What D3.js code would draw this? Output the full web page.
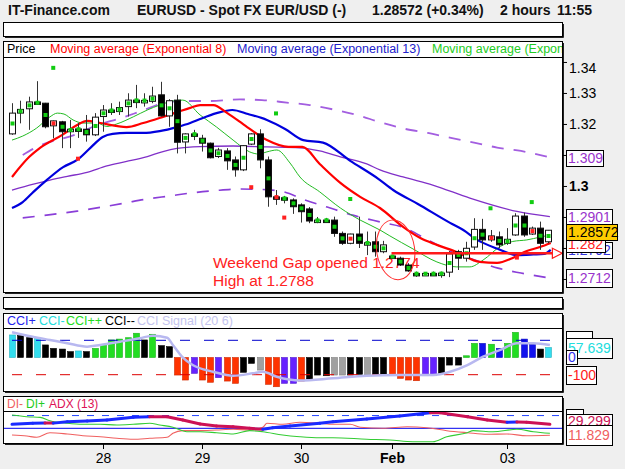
<!DOCTYPE html>
<html>
<head>
<meta charset="utf-8">
<script src="https://cdn.jsdelivr.net/npm/d3@7"></script>
<style>
	body { margin: 0; background: #efefef; }
	svg { display: block; font-family: "Liberation Sans", Arial, sans-serif; }
</style>
</head>
<body>
<div id="chart"></div>
<script>
// EURUSD 2-hour candles, 27 Jan -> 03 Feb
var opens  = [1.3168,1.3235,1.3249,1.3271,1.3267,1.3194,1.3207,1.3178,1.3184,1.3183,1.3165,1.3224,1.3245,1.3240,1.3256,1.3277,1.3275,1.3273,1.3294,1.3226,1.3277,1.3142,1.3168,1.3154,1.3138,1.3095,1.3113,1.3084,1.3052,1.3135,1.3168,1.3084,1.2965,1.2962,1.2955,1.2939,1.2926,1.2888,1.2890,1.2890,1.2847,1.2815,1.2845,1.2815,1.2820,1.2788,1.2774,1.2767,1.2745,1.2718,1.2716,1.2718,1.2716,1.2722,1.2788,1.2767,1.2803,1.2860,1.2826,1.2836,1.2815,1.2842,1.2903,1.2845,1.2864,1.2820];
var highs  = [1.3267,1.3275,1.3288,1.3338,1.3268,1.3211,1.3210,1.3213,1.3203,1.3229,1.3235,1.3261,1.3267,1.3272,1.3299,1.3326,1.3299,1.3320,1.3336,1.3280,1.3294,1.3170,1.3181,1.3165,1.3140,1.3123,1.3122,1.3095,1.3132,1.3170,1.3183,1.3095,1.2987,1.2968,1.2960,1.2944,1.2932,1.2900,1.2897,1.2901,1.2853,1.2846,1.2901,1.2853,1.2853,1.2823,1.2778,1.2772,1.2751,1.2724,1.2722,1.2724,1.2724,1.2790,1.2794,1.2820,1.2896,1.2894,1.2858,1.2853,1.2864,1.2912,1.2914,1.2869,1.2885,1.2858];
var lows   = [1.3165,1.3202,1.3181,1.3262,1.3186,1.3154,1.3122,1.3122,1.3155,1.3143,1.3161,1.3175,1.3229,1.3229,1.3224,1.3251,1.3256,1.3267,1.3224,1.3191,1.3105,1.3105,1.3148,1.3111,1.3089,1.3090,1.3052,1.3030,1.3048,1.3132,1.3057,1.2933,1.2939,1.2944,1.2910,1.2882,1.2880,1.2880,1.2884,1.2836,1.2810,1.2812,1.2800,1.2777,1.2772,1.2783,1.2768,1.2742,1.2723,1.2707,1.2710,1.2710,1.2704,1.2706,1.2729,1.2756,1.2794,1.2794,1.2820,1.2799,1.2810,1.2839,1.2836,1.2842,1.2794,1.2815];
var closes = [1.3235,1.3247,1.3271,1.3266,1.3191,1.3210,1.3175,1.3183,1.3182,1.3165,1.3222,1.3245,1.3242,1.3253,1.3277,1.3275,1.3276,1.3290,1.3226,1.3275,1.3141,1.3168,1.3166,1.3138,1.3091,1.3116,1.3081,1.3052,1.3130,1.3168,1.3084,1.2965,1.2963,1.2958,1.2933,1.2917,1.2887,1.2890,1.2889,1.2847,1.2815,1.2845,1.2815,1.2817,1.2788,1.2810,1.2771,1.2745,1.2726,1.2716,1.2718,1.2716,1.2719,1.2781,1.2767,1.2799,1.2860,1.2826,1.2839,1.2810,1.2828,1.2903,1.2842,1.2864,1.2815,1.28572];
var redMarks = [5, 32, 41, 58, 63];

// stand-alone signal squares
var sigIdx = [5, 8, 29, 32, 33, 41, 58, 61.2, 63];
var sigVal = [1.3381, 1.3088, 1.2996, 1.3234, 1.2898, 1.2958, 1.2928, 1.2769, 1.2948];
var sigCol = ["g", "r", "r", "g", "r", "g", "g", "r", "g"];

// moving averages (candle index, price)
var ema8At  = [0,2.1,3.4,6.1,7.9,9.1,10.7,13.9,15.9,18.3,20.1,21.6,22.8,24.4,26.1,28.5,30.9,33.5,35.2,37.3,39.8,42.2,44.6,47.4,49.5,51.5,53.9,56.7,58.8,60.7,62.4,64,65.3];
var ema8    = [1.3029,1.3094,1.3123,1.3165,1.3197,1.3210,1.3203,1.3190,1.3203,1.3223,1.3239,1.3252,1.3261,1.3261,1.3235,1.3190,1.3148,1.3126,1.3126,1.3071,1.3010,1.2965,1.2929,1.2868,1.2832,1.2810,1.2787,1.2755,1.2752,1.2768,1.2790,1.2803,1.2816];
var ema13At = [0,1.3,2.6,4.2,6.2,7.9,9.5,11,12.2,13.9,15.9,17.9,20,21.6,22.8,24.8,26.7,28.6,30.9,33.1,35.3,37.7,41,44.4,46.2,49.2,53.1,54.7,56.4,58.8,61.2,63.2,64.5,65.3];
var ema13   = [1.2929,1.2948,1.2981,1.3019,1.3061,1.3084,1.3123,1.3158,1.3168,1.3171,1.3171,1.3177,1.3190,1.3203,1.3216,1.3235,1.3245,1.3232,1.3213,1.3184,1.3148,1.3140,1.3081,1.3023,1.2987,1.2942,1.2881,1.2858,1.2826,1.2798,1.2777,1.2779,1.2781,1.2794];
var emaGAt  = [0,1.3,3,4.6,5.5,6.3,7.4,8.6,10.3,11.5,12.7,14.7,16.4,17.9,19.5,20.7,22.8,24.8,26.8,28.8,29.9,30.9,32.1,33.7,34.9,37.3,39.8,42.2,44.6,45.8,48.6,51.5,53.9,55.5,57.1,59.2,60.7,62.4,64,65.2];
var emaG    = [1.3148,1.3161,1.3187,1.3223,1.3235,1.3232,1.3213,1.3203,1.3203,1.3192,1.3200,1.3223,1.3245,1.3261,1.3274,1.3277,1.3229,1.3190,1.3148,1.3110,1.3103,1.3110,1.3116,1.3074,1.3029,1.2981,1.2929,1.2890,1.2858,1.2839,1.2797,1.2755,1.2739,1.2739,1.2761,1.2805,1.2821,1.2826,1.2835,1.2842];
var maAt    = [0,2.6,4.6,6.7,9.1,11.5,13.9,16.4,18.3,20,22.8,26.8,30.9,34.9,37.3,39.8,43,44.6,47.4,51,55.5,61.2,65.2];
var ma      = [1.2987,1.3006,1.3019,1.3031,1.3044,1.3065,1.3079,1.3095,1.3111,1.3121,1.3127,1.3129,1.3126,1.3123,1.3113,1.3094,1.3071,1.3052,1.3029,1.3003,1.2961,1.2918,1.2901];
var upAt    = [1.3,2.8,8,10.2,13.1,15.5,18.5,21,23.8,27.6,30.3,33.3,36.1,38.9,41.8,44.7,47.5,50.4,53.2,56,58.8,61.7,65.2];
var up      = [1.3100,1.3123,1.3169,1.3195,1.3218,1.3240,1.3268,1.3274,1.3274,1.3279,1.3277,1.3269,1.3261,1.3247,1.3229,1.3205,1.3185,1.3171,1.3155,1.3140,1.3124,1.3113,1.3092];
var loAt    = [1.3,4.2,7.9,10.7,13.5,16.4,19.2,21.6,24.6,27.6,30.1,32.8,35.5,38.2,41.3,44.6,47.6,50.4,53.3,56.1,58.9,61.7,65.2];
var lo      = [1.2897,1.2906,1.2919,1.2931,1.2944,1.2958,1.2968,1.2977,1.2985,1.2990,1.2989,1.2982,1.2955,1.2932,1.2906,1.2884,1.2865,1.2826,1.2787,1.2761,1.2735,1.2719,1.2703];

// CCI histogram, one bar per candle
var cci    = [131,127,115,115,73,53,49,34,38,34,53,73,102,107,115,141,102,135,69,63,-102,-131,-92,-131,-144,-117,-137,-150,-86,-34,-73,-156,-170,-150,-150,-137,-125,-102,-106,-102,-102,-102,-98,-102,-102,-102,-102,-121,-131,-135,-106,-106,-92,-44,-44,10,82,82,77,53,82,146,107,77,49,57.6];
var cciCol = "ckkckkkkckggggggkgkkrrprrprrkkyrrpprkkkyykkykkrrrrppkkkggbgbggbbkc";
var sigAt  = [0,2.5,4.6,6.7,9.1,10.7,13.1,15.5,17.1,18.8,19.5,20.6,21.9,24.4,26.8,29.2,30.4,32.1,34.9,38.9,43,47,51,53.1,55.2,57.1,59.2,61.2,63.2,65.2];
var cciSig = [147,121,102,83,63,73,92,112,127,115,73,5,-44,-83,-106,-92,-83,-112,-134,-121,-106,-102,-102,-83,-44,5,44,83,83,73];

// DMI / ADX (13)
var adxAt = [0,2.5,4,5,6.7,9.1,11.5,14.7,16.7,18.8,20.7,22.8,24.8,26.8,28.8,30.4,31.6,33.7,37.3,38.9,43,47,50.7,51.9,55.2,57.6,60,61.2,62.4,65.2];
var adx   = [24.7,25.9,26.3,26.1,27.8,28.6,29.8,32.9,33.7,33.5,29.8,25.1,22.7,21.9,20,18.8,20.7,22.7,25.9,27.8,30.9,34.5,38.4,38.3,33.6,29.8,27.1,27.3,27.1,24.7];
var dipAt = [0,1.8,3.4,4.6,6.7,8.6,10.7,12.7,14.7,16.7,17.9,19.5,21.2,22.8,24.8,26.8,28.8,30.4,32.8,34.9,37.3,38.9,43,45.8,48.6,51,52.7,55.2,55.9,58.3,61.2,63.2,65.2];
var diPlus = [35.6,33.6,32.9,28.9,25.9,24.7,24.7,23.9,24.7,25.9,23.9,21.2,16.0,16.0,14.8,13.3,17.2,16.0,12.1,10.1,8.9,8.9,7.1,6.2,4.2,4.2,10.1,14.8,17.2,16.0,18.8,16.0,14.1];
var dimAt = [0,1.8,3,4.6,6.7,8.6,10.7,12.7,14.7,16.7,18.8,19.5,20.7,22.8,24.8,26.8,28.8,30.4,30.9,32.8,34.9,37.3,38.9,41,42.2,45,47.9,50.3,52.7,55.2,57.6,60,62.4,65.2];
var diMinus = [12.1,10.9,9.4,14.8,13.3,11.3,10.1,8.2,7.1,8.2,9.4,14.1,17.2,17.2,18.0,18.8,18.0,21.2,25.9,24.7,27.1,25.9,24.7,24.7,21.2,20,21.9,20.7,17.2,14.8,12.9,13.3,11.3,11.8];

// day ticks
var dayIdx = [11, 23, 35, 46, 60];
var dayLab = ["28", "29", "30", "Feb", "03"];
var priceTicks = [1.27, 1.28, 1.29, 1.30, 1.31, 1.32, 1.33, 1.34];
var shownTicks = [1.30, 1.32, 1.33, 1.34];

var gapPrice = 1.2783, gapFrom = 46, gapTo = 65.5;

var W = 625, H = 469;
var svg = d3.select("#chart").append("svg").attr("width", W).attr("height", H);
svg.append("rect").attr("width", W).attr("height", H).attr("fill", "#efefef");

var x  = d3.scaleLinear().domain([0, 65]).range([12, 548.25]);
var y  = d3.scaleLinear().domain([1.2658, 1.3416]).range([292, 57]);
var yc = d3.scaleLinear().domain([-200.6, 171.5]).range([392, 328]);
var ya = d3.scaleLinear().domain([1.5, 39.2]).range([444, 412]);

function frame(x0, y0, w, h) {
	svg.append("rect").attr("x", x0 + 0.5).attr("y", y0 + 0.5).attr("width", w).attr("height", h)
		.attr("fill", "#fff").attr("stroke", "#000");
	svg.append("path").attr("d", "M" + (x0 + w + 1.5) + "," + (y0 + 2) + "V" + (y0 + h + 1.5) + "H" + (x0 + 2))
		.attr("fill", "none").attr("stroke", "#222");
}
function hline(yy) {
	svg.append("line").attr("x1", 4).attr("x2", 562).attr("y1", yy + 0.5).attr("y2", yy + 0.5).attr("stroke", "#000");
}
function clip(id, y0, h) {
	svg.append("clipPath").attr("id", id).append("rect").attr("x", 4).attr("y", y0).attr("width", 558).attr("height", h);
	return svg.append("g").attr("clip-path", "url(#" + id + ")");
}
function pts(at, v) { return at.map(function(a, k) { return [a, v[k]]; }); }
function box(x0, cy, w, txt, col, fill, hh) {
	hh = hh || 16;
	svg.append("rect").attr("x", x0 + 0.5).attr("y", Math.round(cy - hh / 2) + 0.5).attr("width", w).attr("height", hh)
		.attr("fill", fill || "#fff").attr("stroke", "#000");
	if (txt) svg.append("text").attr("x", x0 + 2).attr("y", cy + 5).attr("fill", col)
		.style("font-size", "14px").text(txt);
}
function legend(yy, size, items) {
	var g = svg.append("g").style("font-size", size);
	items.forEach(function(d) {
		g.append("text").attr("x", d[2]).attr("y", yy).attr("fill", d[1]).text(d[0]);
	});
	return g;
}

// header
var head = svg.append("g").style("font-size", "14px").style("font-weight", "bold").attr("fill", "#111");
head.append("text").attr("x", 8).attr("y", 15).text("IT-Finance.com");
head.append("text").attr("x", 137).attr("y", 15).text("EURUSD - Spot FX EUR/USD (-)");
head.append("text").attr("x", 372).attr("y", 15).text("1.28572 (+0.34%)");
head.append("text").attr("x", 500).attr("y", 15).text("2 hours");
head.append("text").attr("x", 557).attr("y", 15).text("11:55");

// frames
frame(3, 22, 559, 14);
frame(3, 41, 559, 251);
hline(57);
frame(3, 297, 559, 11);
frame(3, 313, 559, 78);
hline(328);
frame(3, 396, 559, 47);
hline(411);

// price legend
svg.append("clipPath").attr("id", "cp-leg").append("rect").attr("x", 4).attr("y", 42).attr("width", 558).attr("height", 15);
legend(53, "12.5px", [["Price", "#000", 7], ["Moving average (Exponential 8)", "#ff0000", 50],
	["Moving average (Exponential 13)", "#2222cc", 237], ["Moving average (Exponential 21)", "#22cc22", 432]])
	.attr("clip-path", "url(#cp-leg)");

// main plot
var main = clip("cp-main", 58, 234);

main.append("text").attr("x", 213).attr("y", 268).attr("fill", "#ff2222").style("font-size", "15.5px").text("Weekend Gap opened 1.2774");
main.append("text").attr("x", 213).attr("y", 286).attr("fill", "#ff2222").style("font-size", "15.5px").text("High at 1.2788");

var line = d3.line().x(function(d) { return x(d[0]); }).y(function(d) { return y(d[1]); }).curve(d3.curveMonotoneX);
main.append("path").attr("d", line(pts(upAt, up))).attr("fill", "none").attr("stroke", "#a35ee0").attr("stroke-width", 1.8).attr("stroke-dasharray", "12,10");
main.append("path").attr("d", line(pts(loAt, lo))).attr("fill", "none").attr("stroke", "#8a3ed8").attr("stroke-width", 1.6).attr("stroke-dasharray", "12,10");
main.append("path").attr("d", line(pts(maAt, ma))).attr("fill", "none").attr("stroke", "#8030c8").attr("stroke-width", 1.3);
main.append("path").attr("d", line(pts(emaGAt, emaG))).attr("fill", "none").attr("stroke", "#22bb22").attr("stroke-width", 1);
main.append("path").attr("d", line(pts(ema13At, ema13))).attr("fill", "none").attr("stroke", "#0000dd").attr("stroke-width", 2.2);
main.append("path").attr("d", line(pts(ema8At, ema8))).attr("fill", "none").attr("stroke", "#ff0000").attr("stroke-width", 2.2);

var candles = d3.range(opens.length).map(function(i) {
	return { i: i, o: opens[i], h: highs[i], l: lows[i], c: closes[i] };
});
var cg = main.selectAll("g.candle").data(candles).enter().append("g");
cg.append("line")
	.attr("x1", function(d) { return Math.round(x(d.i)) + 0.5; })
	.attr("x2", function(d) { return Math.round(x(d.i)) + 0.5; })
	.attr("y1", function(d) { return y(d.h); })
	.attr("y2", function(d) { return y(d.l); })
	.attr("stroke", "#333");
cg.append("rect")
	.attr("x", function(d) { return Math.round(x(d.i)) - 2.5; })
	.attr("width", 6)
	.attr("y", function(d) { return y(Math.max(d.o, d.c)); })
	.attr("height", function(d) { return Math.max(2.5, Math.abs(y(d.o) - y(d.c))); })
	.attr("fill", function(d) { return d.c >= d.o ? "#fff" : "#000"; })
	.attr("stroke", "#111");
cg.append("rect")
	.attr("x", function(d) { return Math.round(x(d.i)) - 1.5; })
	.attr("y", function(d) { return y((d.o + d.c) / 2) - 2; })
	.attr("width", 4).attr("height", 4)
	.attr("fill", function(d) { return redMarks.indexOf(d.i) >= 0 ? "#ff2020" : "#11cc11"; });

main.selectAll("rect.sig").data(sigIdx).enter().append("rect")
	.attr("x", function(d) { return x(d) - 2; })
	.attr("y", function(d, k) { return y(sigVal[k]) - 2; })
	.attr("width", 4).attr("height", 4)
	.attr("fill", function(d, k) { return sigCol[k] == "g" ? "#11cc11" : "#ff2020"; });

// weekend gap annotation
var gy = y(gapPrice);
main.append("ellipse").attr("cx", x(46.5)).attr("cy", y(1.2794)).attr("rx", 19).attr("ry", 30)
	.attr("transform", "rotate(-8," + x(46.5) + "," + y(1.2794) + ")")
	.attr("fill", "none").attr("stroke", "#ff3030").attr("stroke-width", 1);
main.append("line").attr("x1", x(gapFrom)).attr("x2", x(gapTo)).attr("y1", gy).attr("y2", gy)
	.attr("stroke", "#ff1a1a").attr("stroke-width", 2.6);
main.append("path").attr("d", "M" + x(gapTo) + "," + (gy - 5) + "L" + (x(gapTo) + 10) + "," + gy + "L" + x(gapTo) + "," + (gy + 5) + "Z")
	.attr("fill", "#fff").attr("stroke", "#ff1a1a").attr("stroke-width", 1.2);

// right price axis (labels under the value boxes are hidden there anyway)
var ax = svg.append("g").attr("transform", "translate(562,0)")
	.call(d3.axisRight(y).tickValues(priceTicks).tickSize(5).tickPadding(2)
		.tickFormat(function(d) { return shownTicks.indexOf(d) >= 0 ? d3.format("~r")(d) : ""; }));
ax.select(".domain").remove();
ax.selectAll("line").attr("stroke", "#000");
ax.selectAll("text").style("font-size", "14px").attr("fill", "#000").style("font-family", "Liberation Sans, Arial, sans-serif")
	.style("font-weight", function(d) { return d == 1.30 ? "bold" : null; })
	.attr("dy", function(d) { return d == 1.34 ? "0.75em" : "0.32em"; });

box(566, 158, 37, "1.309", "#9933cc");
box(566, 216.5, 46, "1.2901", "#9933cc");
box(566, 250, 46, "1.2792", "#3333dd");
box(566, 244, 39, "1.282", "#ff2020");
box(566, 232, 51, "1.28572", "#000", "#ffcc00");
box(566, 278, 46, "1.2712", "#9933cc", null, 18);

// CCI panel
legend(325, "12.5px", [["CCI+", "#2222ee", 7], ["CCI-", "#22dddd", 39], ["CCI++", "#22dd22", 66],
	["CCI--", "#000", 105], ["CCI Signal (20 6)", "#c4c4ee", 137]]);

var cp = clip("cp-cci", 329, 62);
var colMap = { c: "#33ddee", k: "#000000", g: "#22dd22", b: "#1111ee", r: "#ff3300", p: "#6622ff", y: "#a0a0a0" };
cp.selectAll("rect.bar").data(cci).enter().append("rect")
	.attr("x", function(d, i) { return Math.round(x(i)) - 2.5; })
	.attr("width", 6)
	.attr("y", function(d) { return yc(Math.max(0, d)); })
	.attr("height", function(d) { return Math.abs(yc(d) - yc(0)); })
	.attr("fill", function(d, i) { return colMap[cciCol[i]]; })
	.attr("stroke", function(d, i) { return d3.color(colMap[cciCol[i]]).darker(0.6); })
	.attr("stroke-width", 0.6);
cp.append("line").attr("x1", 12).attr("x2", 562).attr("y1", yc(100)).attr("y2", yc(100))
	.attr("stroke", "#0000cc").attr("stroke-dasharray", "10,14");
cp.append("line").attr("x1", 12).attr("x2", 562).attr("y1", yc(-100)).attr("y2", yc(-100))
	.attr("stroke", "#dd0000").attr("stroke-dasharray", "10,14");
var cline = d3.line().x(function(d) { return x(d[0]); }).y(function(d) { return yc(d[1]); }).curve(d3.curveMonotoneX);
cp.append("path").attr("d", cline(pts(sigAt, cciSig))).attr("fill", "none").attr("stroke", "#b8b8f0").attr("stroke-width", 2.5);

box(566, 339, 26, "", "#2222ee");
box(566, 347.5, 46, "57.639", "#22dddd", null, 20);
box(566, 357, 11, "0", "#3333ee", null, 14);
box(566, 374.5, 30, "-100", "#ff2020", null, 18);

// ADX panel
legend(408, "12px", [["DI-", "#f06060", 7], ["DI+", "#22cc22", 26], ["ADX (13)", "#dd1155", 49]]);

var ap = clip("cp-adx", 412, 31);
ap.append("line").attr("x1", 12).attr("x2", 562).attr("y1", ya(35)).attr("y2", ya(35))
	.attr("stroke", "#2244ff").attr("stroke-dasharray", "7,8");
ap.append("line").attr("x1", 4).attr("x2", 562).attr("y1", ya(20)).attr("y2", ya(20))
	.attr("stroke", "#0000ee");
var aline = d3.line().x(function(d) { return x(d[0]); }).y(function(d) { return ya(d[1]); }).curve(d3.curveMonotoneX);
ap.append("path").attr("d", aline(pts(dimAt, diMinus))).attr("fill", "none").attr("stroke", "#f06060").attr("stroke-width", 1.1);
ap.append("path").attr("d", aline(pts(dipAt, diPlus))).attr("fill", "none").attr("stroke", "#33cc33").attr("stroke-width", 1.1);
var adxPts = pts(adxAt, adx);
ap.selectAll("line.adx").data(adxPts.slice(1)).enter().append("line")
	.attr("x1", function(d, k) { return x(adxPts[k][0]); })
	.attr("y1", function(d, k) { return ya(adxPts[k][1]); })
	.attr("x2", function(d) { return x(d[0]); })
	.attr("y2", function(d) { return ya(d[1]); })
	.attr("stroke", function(d, k) { return d[1] >= adxPts[k][1] ? "#1a2aff" : "#cc1155"; })
	.attr("stroke-width", 3).attr("stroke-linecap", "round");

box(566, 413, 17, "", "#000", null, 8);
box(566, 421, 46, "29.299", "#cc1155", null, 14);
box(566, 435, 46, "11.829", "#f06060", null, 20);

// time axis
var tg = svg.append("g");
dayIdx.forEach(function(d, k) {
	var xx = Math.round(x(d)) + 0.5;
	tg.append("line").attr("x1", xx).attr("x2", xx).attr("y1", 444).attr("y2", 449).attr("stroke", "#000");
	tg.append("text").attr("x", xx).attr("y", 463).attr("text-anchor", "middle")
		.style("font-size", "14px").style("font-weight", dayLab[k] == "Feb" ? "bold" : null).text(dayLab[k]);
});
</script>
</body>
</html>
